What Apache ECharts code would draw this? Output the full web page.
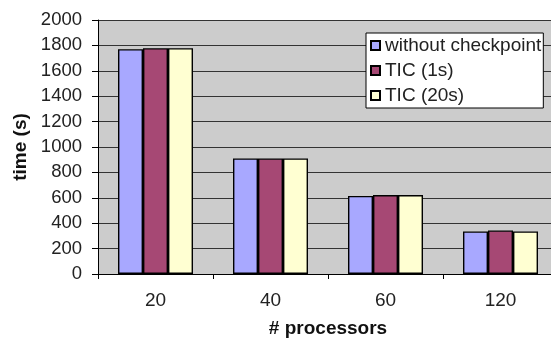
<!DOCTYPE html>
<html>
<head>
<meta charset="utf-8">
<script src="https://cdn.jsdelivr.net/npm/echarts@6/dist/echarts.min.js"></script>
<style>
  html, body { margin: 0; padding: 0; background: #fff; }
  #chart { width: 551px; height: 341px; }
</style>
</head>
<body>
<div id="chart"></div>
<script>
// 数据
var categories = ['20', '40', '60', '120'];
var seriesNames = ['without checkpoint', 'TIC (1s)', 'TIC (20s)'];
var noCheckpoint = [1770, 910, 615, 335];
var tic1s = [1778, 910, 622, 343];
var tic20s = [1778, 910, 622, 335];
var colors = ['#a8a8ff', '#a64874', '#ffffd2'];

var font = 'Liberation Sans, Arial, sans-serif';
var myChart = echarts.init(document.getElementById('chart'));

var values = [noCheckpoint, tic1s, tic20s];
var series = seriesNames.map(function (name, i) {
  return {
    name: name,
    type: 'bar',
    data: values[i],
    barWidth: 25,
    barGap: '0%',
    itemStyle: {
      color: colors[i],
      borderColor: '#000',
      borderWidth: 1.4
    }
  };
});

var option = {
  animation: false,
  grid: {
    left: 98,
    top: 20,
    bottom: 67,
    width: 460,
    outerBoundsMode: 'none',
    containLabel: false,
    show: true,
    backgroundColor: '#cccccc',
    borderWidth: 0
  },
  legend: {
    orient: 'vertical',
    left: 366,
    top: 33,
    backgroundColor: '#fff',
    borderColor: '#000',
    borderWidth: 1,
    padding: [3, 2, 3, 4],
    itemWidth: 9,
    itemHeight: 9,
    itemGap: 6,
    icon: 'rect',
    textStyle: {
      fontFamily: font,
      fontSize: 19,
      color: '#222'
    },
    data: seriesNames
  },
  xAxis: {
    type: 'category',
    data: categories,
    name: '# processors',
    nameLocation: 'middle',
    nameGap: 45,
    nameTextStyle: {
      fontFamily: font,
      fontSize: 19,
      fontWeight: 'bold',
      color: '#111'
    },
    axisLine: { lineStyle: { color: '#000', width: 1 } },
    axisTick: { show: true, length: 5, lineStyle: { color: '#000' } },
    axisLabel: {
      fontFamily: font,
      fontSize: 19,
      color: '#222',
      margin: 17
    }
  },
  yAxis: {
    type: 'value',
    min: 0,
    max: 2000,
    interval: 200,
    name: 'time (s)',
    nameLocation: 'middle',
    nameGap: 66,
    nameTextStyle: {
      fontFamily: font,
      fontSize: 19,
      fontWeight: 'bold',
      color: '#111'
    },
    axisLine: { show: true, lineStyle: { color: '#000', width: 1 } },
    axisTick: { show: true, length: 6, lineStyle: { color: '#000' } },
    axisLabel: {
      fontFamily: font,
      fontSize: 18.5,
      color: '#222',
      margin: 16,
      formatter: function (v) { return String(v); }
    },
    splitLine: { lineStyle: { color: '#333', width: 1 } }
  },
  series: series
};

myChart.setOption(option);
</script>
</body>
</html>
